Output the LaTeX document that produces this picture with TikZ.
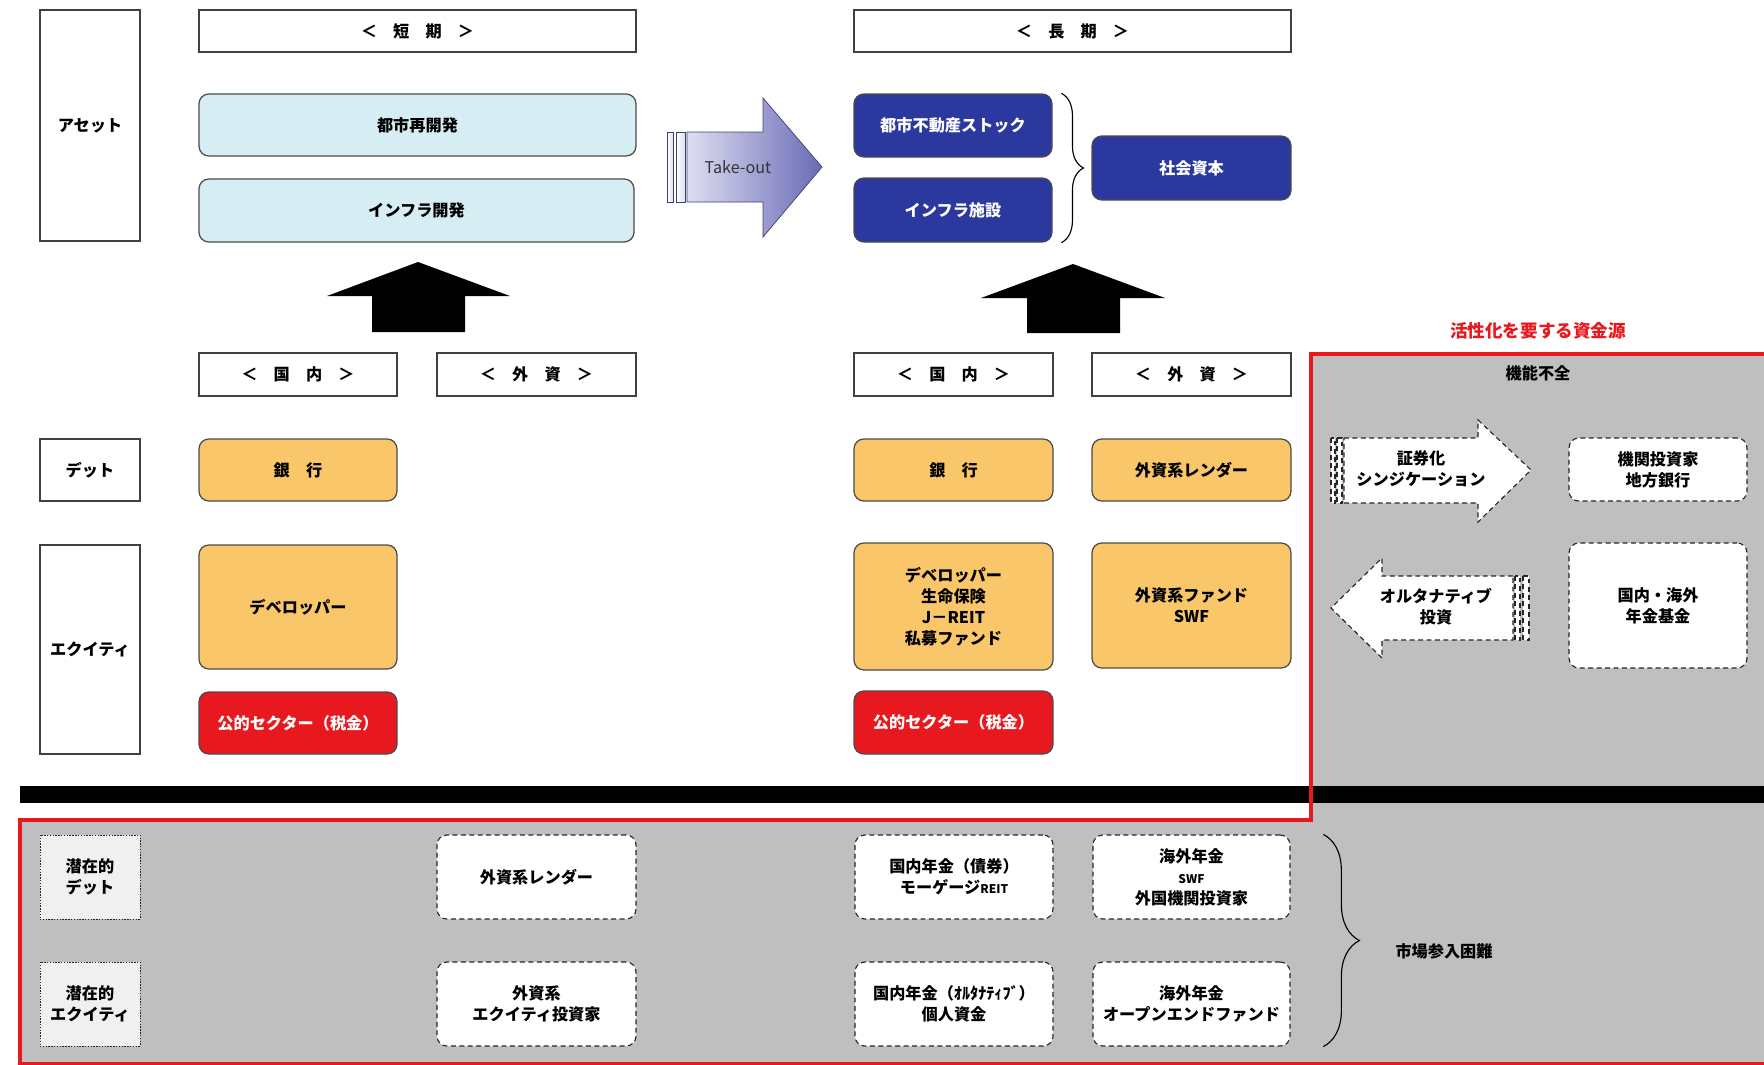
\documentclass[tikz,border=0pt]{standalone}
\usepackage{fontspec}
\setmainfont{Noto Sans CJK JP}
\usetikzlibrary{decorations.pathreplacing}
\definecolor{ltblue}{RGB}{214,238,243}
\definecolor{navyfill}{RGB}{43,57,158}
\definecolor{orafill}{RGB}{249,199,106}
\definecolor{redfill}{RGB}{232,25,30}
\definecolor{areagray}{RGB}{191,191,191}
\definecolor{lavL}{RGB}{222,222,242}
\definecolor{lavR}{RGB}{106,106,182}
\tikzset{
  base/.style={inner sep=0pt, align=center, font=\bfseries\fontsize{11.5}{15}\selectfont},
  wh/.style 2 args={minimum width=#1*0.025cm, minimum height=#2*0.025cm},
  hdr/.style={base, draw=black!75, line width=0.9pt, fill=white},
  rbox/.style={base, draw=black!70, line width=0.9pt, rounded corners=7pt},
  ltbox/.style={rbox, fill=ltblue},
  navybox/.style={rbox, fill=navyfill, text=white},
  orabox/.style={rbox, fill=orafill},
  pubbox/.style={rbox, fill=redfill, text=white},
  dashbox/.style={base, draw=black!85, fill=white, line width=0.8pt, dash pattern=on 3.5pt off 2.5pt, rounded corners=7pt},
  potbox/.style={base, draw=black!85, fill=black!6, line width=0.7pt, dash pattern=on 1pt off 1pt},
  dasharrow/.style={draw=black!85, fill=white, line width=0.8pt, dash pattern=on 3.5pt off 2.5pt},
  bracedec/.style={decorate, line width=0.8pt, decoration={brace, amplitude=#1}},
}
\begin{document}
\begin{tikzpicture}[x=0.025cm, y=-0.025cm]
\useasboundingbox (0,0) rectangle (1764,1065);
% areas of the funding sources
\fill[areagray] (1311,354) -- (1764,354) -- (1764,1065) -- (20,1065) -- (20,820) -- (1311,820) -- cycle;
\fill[black] (20,786) rectangle (1764,803);
\draw[redfill, line width=2.2pt] (1766,354) -- (1311,354) -- (1311,820) -- (20,820) -- (20,1064) -- (1766,1064);

\node[hdr, wh={100}{231}] (asset) at (90,125.5) {アセット};
\node[hdr, wh={100}{62}] (debt) at (90,470) {デット};
\node[hdr, wh={100}{209}] (equity) at (90,649.5) {エクイティ};
\node[hdr, wh={437}{42}] (short) at (417.5,31) {＜　短　期　＞};
\node[hdr, wh={437}{42}] (long) at (1072.5,31) {＜　長　期　＞};

\node[ltbox, wh={437}{62}] (redev) at (417.5,125) {都市再開発};
\node[ltbox, wh={435}{63}] (infradev) at (416.5,210.5) {インフラ開発};
\node[navybox, wh={198}{63}] (stock) at (953,125.5) {都市不動産ストック};
\node[navybox, wh={198}{64}] (infra) at (953,210) {インフラ施設};
\node[navybox, wh={199}{64}] (social) at (1191.5,168) {社会資本};
\draw[bracedec=0.55cm] ([xshift=0.22cm]stock.north east) -- ([xshift=0.22cm]infra.south east);

% take-out arrow
\shadedraw[left color=white, right color=lavL, draw=lavR!60!black, line width=0.5pt] (667,132) rectangle (673,202);
\shadedraw[left color=white, right color=lavL, draw=lavR!60!black, line width=0.5pt] (676,132) rectangle (685,202);
\shadedraw[left color=lavL, right color=lavR, draw=lavR!60!black, line width=0.5pt]
  (687,132) -- (763,132) -- (763,98) -- (822,167) -- (763,237) -- (763,202) -- (687,202) -- cycle;
\node[inner sep=0pt, font=\fontsize{11.5}{13}\selectfont, text=black!80] (takeout) at (738,167) {Take-out};

\fill (418,262) -- (510,296) -- (465,296) -- (465,332) -- (372,332) -- (372,296) -- (327,296) -- cycle;
\fill (1073,264) -- (1165,298) -- (1120,298) -- (1120,333) -- (1027,333) -- (1027,298) -- (981,298) -- cycle;

\node[hdr, wh={198}{43}] (domL) at (298,374.5) {＜　国　内　＞};
\node[hdr, wh={199}{43}] (forL) at (536.5,374.5) {＜　外　資　＞};
\node[hdr, wh={199}{43}] (domR) at (953.5,374.5) {＜　国　内　＞};
\node[hdr, wh={199}{43}] (forR) at (1191.5,374.5) {＜　外　資　＞};

\node[orabox, wh={198}{62}] (bankL) at (298,470) {銀　行};
\node[orabox, wh={198}{124}] (devL) at (298,607) {デベロッパー};
\node[pubbox, wh={198}{62}] (pubL) at (298,723) {公的セクター（税金）};
\node[orabox, wh={199}{62}] (bankR) at (953.5,470) {銀　行};
\node[orabox, wh={199}{62}] (lenderR) at (1191.5,470) {外資系レンダー};
\node[orabox, wh={199}{127}] (devR) at (953.5,606.5) {デベロッパー\\生命保険\\J－REIT\\私募ファンド};
\node[orabox, wh={199}{125}] (fundR) at (1191.5,605.5) {外資系ファンド\\SWF};
\node[pubbox, wh={199}{63}] (pubR) at (953.5,722.5) {公的セクター（税金）};

% not working sources
\node[inner sep=0pt, font=\bfseries\fontsize{12.5}{14}\selectfont, text=redfill] (needs) at (1538,331) {活性化を要する資金源};
\node[base] (dysfunc) at (1538,373) {機能不全};
\filldraw[dasharrow] (1331,438) rectangle (1335,503);
\filldraw[dasharrow] (1337,438) rectangle (1342,503);
\filldraw[dasharrow] (1344,438) -- (1478,438) -- (1478,420) -- (1531,470) -- (1478,522) -- (1478,503) -- (1344,503) -- cycle;
\node[base] (secur) at (1421,469) {証券化\\シンジケーション};
\node[dashbox, wh={178}{63}] (inst) at (1658,469.5) {機関投資家\\地方銀行};
\filldraw[dasharrow] (1515,576) rectangle (1520,640);
\filldraw[dasharrow] (1523,576) rectangle (1529,640);
\filldraw[dasharrow] (1513,576) -- (1382,576) -- (1382,558) -- (1331,608) -- (1382,658) -- (1382,640) -- (1513,640) -- cycle;
\node[base] (alt) at (1436,607) {オルタナティブ\\投資};
\node[dashbox, wh={178}{125}] (pension) at (1658,605.5) {国内・海外\\年金基金};

% potential sources
\node[potbox, wh={100}{84}] (potdebt) at (90,877) {潜在的\\デット};
\node[potbox, wh={100}{84}] (poteq) at (90,1004) {潜在的\\エクイティ};
\node[dashbox, wh={199}{84}] (lenderB) at (536.5,877) {外資系レンダー};
\node[dashbox, wh={199}{84}] (eqinv) at (536.5,1004) {外資系\\エクイティ投資家};
\node[dashbox, wh={198}{84}] (penbond) at (954,877) {国内年金（債券）\\モーゲージ{\fontsize{8.5}{10}\selectfont REIT}};
\node[dashbox, wh={197}{84}] (penswf) at (1191.5,877) {海外年金\\{\fontsize{8.5}{10}\selectfont SWF}\\外国機関投資家};
\node[dashbox, wh={198}{84}] (penalt) at (954,1004) {国内年金（ｵﾙﾀﾅﾃｨﾌﾞ）\\個人資金};
\node[dashbox, wh={197}{84}] (penopen) at (1191.5,1004) {海外年金\\オープンエンドファンド};
\draw[bracedec=0.9cm] ([xshift=0.82cm]penswf.north east) -- ([xshift=0.82cm]penopen.south east);
\node[base] (entry) at (1444,951) {市場参入困難};
\end{tikzpicture}
\end{document}
